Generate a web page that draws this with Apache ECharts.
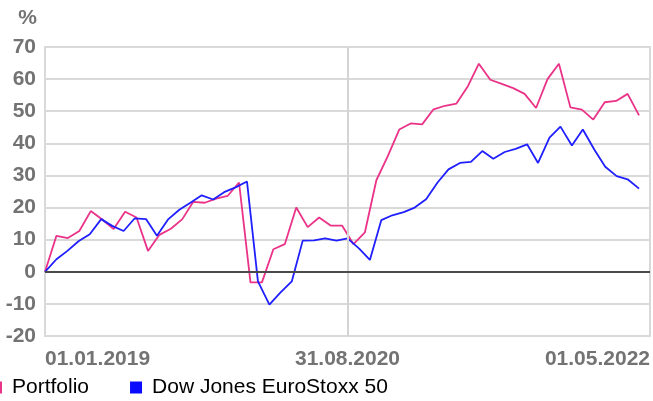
<!DOCTYPE html>
<html>
<head>
<meta charset="utf-8">
<script src="https://cdn.jsdelivr.net/npm/echarts@6/dist/echarts.min.js"></script>
<style>
html,body{margin:0;padding:0;background:#fff;}
#chart{width:653px;height:401px;}
</style>
</head>
<body>
<div id="chart"></div>
<script>
// ---- data ----
const seriesNames = ['Portfolio', 'Dow Jones EuroStoxx 50'];

const portfolioDates = [
 '2019-01-01','2019-01-24','2019-02-16','2019-03-11','2019-04-03','2019-04-26','2019-05-19','2019-06-11','2019-07-04','2019-07-27',
 '2019-08-19','2019-09-11','2019-10-04','2019-10-26','2019-11-18','2019-12-11','2020-01-03','2020-01-26','2020-02-18','2020-03-12',
 '2020-04-04','2020-04-27','2020-05-20','2020-06-12','2020-07-05','2020-07-28','2020-08-20','2020-09-12','2020-10-05','2020-10-28',
 '2020-11-20','2020-12-13','2021-01-05','2021-01-28','2021-02-20','2021-03-15','2021-04-07','2021-04-30','2021-05-22','2021-06-14',
 '2021-07-07','2021-07-30','2021-08-22','2021-09-14','2021-10-07','2021-10-30','2021-11-22','2021-12-15','2022-01-07','2022-01-30',
 '2022-02-22','2022-03-17','2022-04-09'
];
const portfolioValues = [
 0, 11.2, 10.5, 12.7, 18.9, 16.3, 13.3, 18.7, 16.9, 6.5,
 11.5, 13.4, 16.4, 21.8, 21.5, 22.8, 23.6, 27.8, -3.3, -3.3,
 7.0, 8.6, 20.0, 13.9, 16.9, 14.4, 14.4, 8.6, 12.3, 28.5,
 36.0, 44.3, 46.2, 45.9, 50.6, 51.7, 52.4, 57.8, 64.8, 59.8,
 58.5, 57.2, 55.4, 51.0, 60.0, 64.8, 51.2, 50.5, 47.4, 52.8,
 53.2, 55.4, 48.7
];

const indexDates = [
 '2019-01-01','2019-01-24','2019-02-15','2019-03-10','2019-04-01','2019-04-24','2019-05-16','2019-06-08','2019-06-30','2019-07-23',
 '2019-08-14','2019-09-06','2019-09-28','2019-10-21','2019-11-12','2019-12-05','2019-12-27','2020-01-19','2020-02-11','2020-03-04',
 '2020-03-27','2020-04-18','2020-05-11','2020-06-02','2020-06-25','2020-07-17','2020-08-09','2020-08-31','2020-09-23','2020-10-15',
 '2020-11-07','2020-11-29','2020-12-22','2021-01-13','2021-02-05','2021-02-28','2021-03-22','2021-04-14','2021-05-06','2021-05-29',
 '2021-06-20','2021-07-13','2021-08-04','2021-08-27','2021-09-18','2021-10-11','2021-11-02','2021-11-25','2021-12-17','2022-01-09',
 '2022-01-31','2022-02-23','2022-03-17','2022-04-09'
];
const indexValues = [
 0, 3.9, 6.5, 9.6, 11.7, 16.4, 14.3, 12.7, 16.6, 16.4,
 11.2, 16.4, 19.3, 21.6, 23.8, 22.5, 24.8, 26.3, 28.1, -3.0,
 -10.2, -6.5, -3.0, 9.7, 9.8, 10.4, 9.7, 10.4, 7.3, 3.7,
 16.1, 17.6, 18.6, 20.0, 22.6, 27.8, 31.9, 33.9, 34.2, 37.6,
 35.2, 37.3, 38.3, 39.7, 33.9, 41.8, 45.2, 39.3, 44.3, 38.1,
 32.7, 29.8, 28.8, 25.9
];

const xStart = '2019-01-01';
const xEnd = '2022-05-01';
const xTickDates = ['2019-01-01', '2020-08-31', '2022-05-01'];
const yMin = -20, yMax = 70, yStep = 10;
const yUnit = '%';

// ---- chart ----
function ts(s) { const p = s.split('-').map(Number); return new Date(p[0], p[1] - 1, p[2]).getTime(); }
function fmt(v) {
  const d = new Date(v);
  const pad = n => (n < 10 ? '0' : '') + n;
  return pad(d.getDate()) + '.' + pad(d.getMonth() + 1) + '.' + d.getFullYear();
}
const FONT = '"Liberation Sans", Arial, sans-serif';
const GRAY = '#737373';

const chart = echarts.init(document.getElementById('chart'), null, { renderer: 'canvas' });
chart.setOption({
  animation: false,
  backgroundColor: '#fff',
  textStyle: { fontFamily: FONT },
  grid: { left: 45, right: 2, top: 47, bottom: 65, show: true, borderColor: '#d9d9d9', borderWidth: 2, containLabel: false },
  legend: {
    data: seriesNames,
    left: -10, top: 377, padding: 0,
    icon: 'rect', itemWidth: 12, itemHeight: 12, itemGap: 41,
    textStyle: { fontFamily: FONT, fontSize: 21, color: '#000', padding: [0, 0, 0, 5] }
  },
  xAxis: {
    type: 'value',
    min: ts(xStart), max: ts(xEnd),
    axisLine: { show: false },
    axisTick: { show: false },
    splitLine: { show: false },
    axisLabel: {
      customValues: xTickDates.map(ts),
      formatter: fmt,
      showMinLabel: true, showMaxLabel: true,
      alignMinLabel: 'left', alignMaxLabel: 'right',
      margin: 13,
      fontFamily: FONT, fontSize: 21, fontWeight: 'bold', color: GRAY
    }
  },
  yAxis: {
    type: 'value',
    min: yMin, max: yMax, interval: yStep,
    name: yUnit,
    nameLocation: 'end',
    nameGap: 29,
    nameTextStyle: { fontFamily: FONT, fontSize: 21, fontWeight: 'bold', color: GRAY, align: 'right', verticalAlign: 'middle', padding: [0, 8, 0, 0] },
    axisLine: { show: false },
    axisTick: { show: false },
    axisLabel: { fontFamily: FONT, fontSize: 21, fontWeight: 'bold', color: GRAY, margin: 9 },
    splitLine: { show: true, lineStyle: { color: '#d9d9d9', width: 2 } }
  },
  series: [
    {
      name: seriesNames[0],
      type: 'line',
      data: portfolioDates.map((d, i) => [ts(d), portfolioValues[i]]),
      showSymbol: false, symbol: 'none',
      lineStyle: { color: '#ea3388', width: 1.8 },
      itemStyle: { color: '#ea3388' },
      z: 3,
      markLine: {
        silent: true, symbol: 'none', label: { show: false }, animation: false,
        data: [
          { xAxis: ts(xTickDates[1]), lineStyle: { color: '#d4d4d4', width: 2, type: 'solid' } },
          { yAxis: 0, lineStyle: { color: '#4a4a4a', width: 2, type: 'solid' } }
        ]
      }
    },
    {
      name: seriesNames[1],
      type: 'line',
      data: indexDates.map((d, i) => [ts(d), indexValues[i]]),
      showSymbol: false, symbol: 'none',
      lineStyle: { color: '#1f1fff', width: 1.8 },
      itemStyle: { color: '#0a0aff' },
      z: 4
    }
  ]
});
</script>
</body>
</html>
